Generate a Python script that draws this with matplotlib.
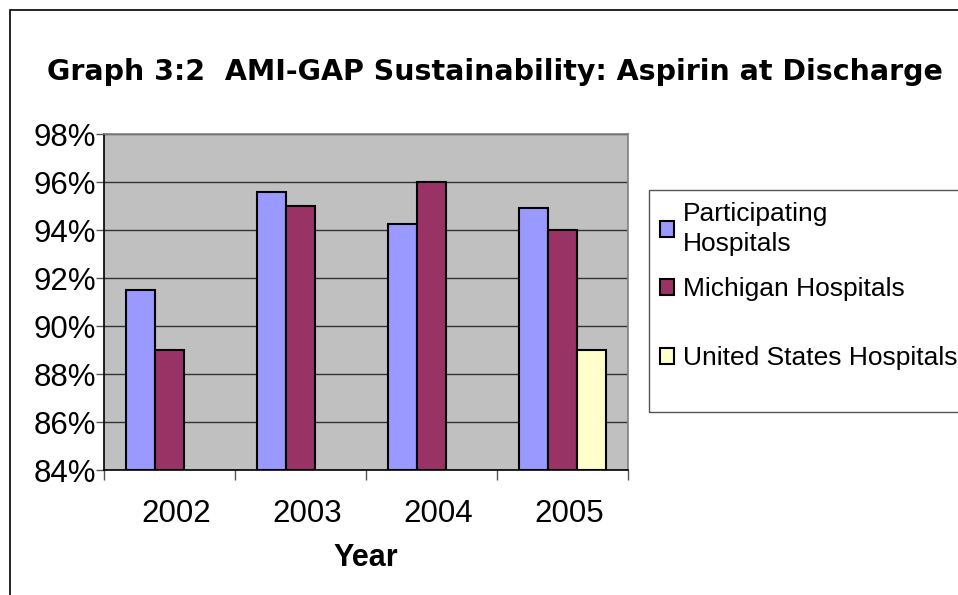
import numpy as np
import matplotlib.pyplot as plt
import matplotlib.transforms as mtransforms
from matplotlib.patches import Rectangle
from matplotlib.ticker import FuncFormatter, MultipleLocator

# values (percent)
years = ["2002", "2003", "2004", "2005"]
participating = [91.5, 95.6, 94.25, 94.9]
michigan = [89.0, 95.0, 96.0, 94.0]
united_states = [np.nan, np.nan, np.nan, 89.0]

series_names = ["Participating\nHospitals", "Michigan Hospitals", "United States Hospitals"]
series_colors = ["#9999FF", "#993366", "#FFFFCC"]

plt.rcParams["font.family"] = ["Liberation Sans", "DejaVu Sans"]

fig = plt.figure(figsize=(9.58, 5.95), dpi=100)
ax = fig.add_axes([104 / 958, 1 - 470 / 595, 524 / 958, 336 / 595])
ax.set_facecolor("#C0C0C0")

x = np.arange(len(years))
w = 0.222
bars = []
for i, (vals, name, col) in enumerate(zip([participating, michigan, united_states],
                                          series_names, series_colors)):
    b = ax.bar(x + (i - 1) * w, np.array(vals) - 84, bottom=84, width=w, color=col,
               edgecolor="black", linewidth=1.5, label=name, zorder=3)
    bars.append(b)

ax.set_xlim(-0.5, 3.5)
ax.set_ylim(84, 98)
ax.yaxis.set_major_locator(MultipleLocator(2))
ax.yaxis.set_major_formatter(FuncFormatter(lambda v, p: f"{v:.0f}%"))
ax.yaxis.grid(True, color="#333333", linewidth=1.0, zorder=1)
ax.set_axisbelow(True)

# category ticks at boundaries, labels centred (nudged right a little, like Excel)
ax.set_xticks(np.arange(-0.5, 4.0, 1.0))
ax.set_xticklabels([])
ax.set_xticks(x, minor=True)
ax.set_xticklabels(years, minor=True, fontsize=22.5)
ax.tick_params(axis="x", which="minor", length=0, pad=21)
ax.tick_params(axis="x", which="major", length=7, width=1, color="#555555")
ax.tick_params(axis="y", length=6, width=1, color="#555555", labelsize=22.5, pad=0)
nudge = mtransforms.ScaledTranslation(7 / 100, 0, fig.dpi_scale_trans)
for lbl in ax.get_xticklabels(minor=True):
    lbl.set_transform(lbl.get_transform() + nudge)

for s in ["top", "right"]:
    ax.spines[s].set_color("#808080")
    ax.spines[s].set_linewidth(1.2)
for s in ["left", "bottom"]:
    ax.spines[s].set_color("black")
    ax.spines[s].set_linewidth(1.2)

ax.set_xlabel("Year", fontsize=22, fontweight="bold", labelpad=10)

fig.text(495 / 958, 1 - 72 / 595, "Graph 3:2  AMI-GAP Sustainability: Aspirin at Discharge",
         ha="center", va="center", fontsize=20.5, fontweight="bold",
         family="DejaVu Sans")

# legend in two parts: the last entry sits lower, as in the original
leg_kw = dict(fontsize=19, frameon=False, handlelength=0.55, handleheight=0.55,
              handletextpad=0.35, borderpad=0.4, borderaxespad=0)
leg1 = fig.legend(bars[:2], series_names[:2], loc="upper left",
                  bbox_to_anchor=(649 / 958, 1 - 191 / 595), labelspacing=0.8, **leg_kw)
leg1.get_texts()[0].set_linespacing(1.35)
leg2 = fig.legend(bars[2:], series_names[2:], loc="center left",
                  bbox_to_anchor=(649 / 958, 1 - 358 / 595), **leg_kw)
for leg in (leg1, leg2):
    for h in leg.legend_handles:
        h.set_linewidth(1.5)

# legend frame (runs off the right edge like the original)
fig.patches.append(Rectangle((649 / 958, 1 - 412 / 595), 0.5, 222 / 595,
                             transform=fig.transFigure, fill=False,
                             edgecolor="#555555", linewidth=1.0))

# outer chart-area border (runs off the right and bottom of the image)
fig.patches.append(Rectangle((10 / 958, -0.1), 1.2, 1.1 - 10 / 595,
                             transform=fig.transFigure, fill=False,
                             edgecolor="black", linewidth=1.2))

fig.savefig("out.png", dpi=100)
